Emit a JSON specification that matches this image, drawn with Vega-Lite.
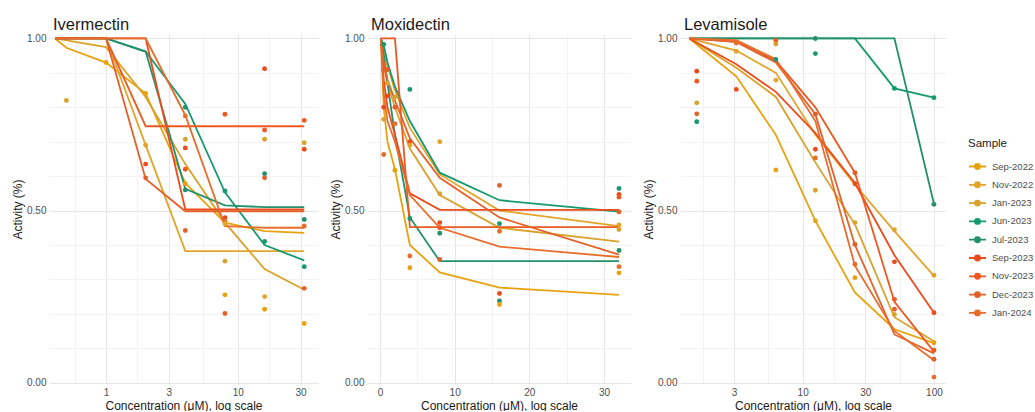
{
  "$schema": "https://vega.github.io/schema/vega-lite/v6.json",
  "padding": {"left": 11, "top": 17, "right": 0, "bottom": 0},
  "background": "white",
  "spacing": 11,
  "datasets": {
    "lines": [
      {"drug":"Ivermectin","sample":"Sep-2022","conc":0.41,"activity":1.0},
      {"drug":"Ivermectin","sample":"Sep-2022","conc":0.5,"activity":0.973},
      {"drug":"Ivermectin","sample":"Sep-2022","conc":1,"activity":0.93},
      {"drug":"Ivermectin","sample":"Sep-2022","conc":2,"activity":0.84},
      {"drug":"Ivermectin","sample":"Sep-2022","conc":4,"activity":0.58},
      {"drug":"Ivermectin","sample":"Sep-2022","conc":8,"activity":0.465},
      {"drug":"Ivermectin","sample":"Sep-2022","conc":16,"activity":0.44},
      {"drug":"Ivermectin","sample":"Sep-2022","conc":32,"activity":0.435},
      {"drug":"Ivermectin","sample":"Nov-2022","conc":0.41,"activity":1.0},
      {"drug":"Ivermectin","sample":"Nov-2022","conc":1,"activity":1.0},
      {"drug":"Ivermectin","sample":"Nov-2022","conc":2,"activity":0.69},
      {"drug":"Ivermectin","sample":"Nov-2022","conc":4,"activity":0.382},
      {"drug":"Ivermectin","sample":"Nov-2022","conc":8,"activity":0.382},
      {"drug":"Ivermectin","sample":"Nov-2022","conc":16,"activity":0.382},
      {"drug":"Ivermectin","sample":"Nov-2022","conc":32,"activity":0.382},
      {"drug":"Ivermectin","sample":"Jan-2023","conc":0.41,"activity":1.0},
      {"drug":"Ivermectin","sample":"Jan-2023","conc":1,"activity":0.975},
      {"drug":"Ivermectin","sample":"Jan-2023","conc":2,"activity":0.83},
      {"drug":"Ivermectin","sample":"Jan-2023","conc":4,"activity":0.635},
      {"drug":"Ivermectin","sample":"Jan-2023","conc":8,"activity":0.465},
      {"drug":"Ivermectin","sample":"Jan-2023","conc":16,"activity":0.33},
      {"drug":"Ivermectin","sample":"Jan-2023","conc":32,"activity":0.27},
      {"drug":"Ivermectin","sample":"Jun-2023","conc":0.41,"activity":1.0},
      {"drug":"Ivermectin","sample":"Jun-2023","conc":1,"activity":1.0},
      {"drug":"Ivermectin","sample":"Jun-2023","conc":2,"activity":0.962},
      {"drug":"Ivermectin","sample":"Jun-2023","conc":4,"activity":0.81},
      {"drug":"Ivermectin","sample":"Jun-2023","conc":8,"activity":0.553},
      {"drug":"Ivermectin","sample":"Jun-2023","conc":16,"activity":0.40},
      {"drug":"Ivermectin","sample":"Jun-2023","conc":32,"activity":0.355},
      {"drug":"Ivermectin","sample":"Jul-2023","conc":0.41,"activity":1.0},
      {"drug":"Ivermectin","sample":"Jul-2023","conc":1,"activity":1.0},
      {"drug":"Ivermectin","sample":"Jul-2023","conc":2,"activity":0.962},
      {"drug":"Ivermectin","sample":"Jul-2023","conc":4,"activity":0.563},
      {"drug":"Ivermectin","sample":"Jul-2023","conc":8,"activity":0.515},
      {"drug":"Ivermectin","sample":"Jul-2023","conc":16,"activity":0.51},
      {"drug":"Ivermectin","sample":"Jul-2023","conc":32,"activity":0.51},
      {"drug":"Ivermectin","sample":"Sep-2023","conc":0.41,"activity":1.0},
      {"drug":"Ivermectin","sample":"Sep-2023","conc":1,"activity":1.0},
      {"drug":"Ivermectin","sample":"Sep-2023","conc":2,"activity":1.0},
      {"drug":"Ivermectin","sample":"Sep-2023","conc":4,"activity":0.503},
      {"drug":"Ivermectin","sample":"Sep-2023","conc":8,"activity":0.503},
      {"drug":"Ivermectin","sample":"Sep-2023","conc":16,"activity":0.503},
      {"drug":"Ivermectin","sample":"Sep-2023","conc":32,"activity":0.503},
      {"drug":"Ivermectin","sample":"Nov-2023","conc":0.41,"activity":1.0},
      {"drug":"Ivermectin","sample":"Nov-2023","conc":1,"activity":1.0},
      {"drug":"Ivermectin","sample":"Nov-2023","conc":2,"activity":0.745},
      {"drug":"Ivermectin","sample":"Nov-2023","conc":4,"activity":0.745},
      {"drug":"Ivermectin","sample":"Nov-2023","conc":8,"activity":0.745},
      {"drug":"Ivermectin","sample":"Nov-2023","conc":16,"activity":0.745},
      {"drug":"Ivermectin","sample":"Nov-2023","conc":32,"activity":0.745},
      {"drug":"Ivermectin","sample":"Dec-2023","conc":0.41,"activity":1.0},
      {"drug":"Ivermectin","sample":"Dec-2023","conc":1,"activity":1.0},
      {"drug":"Ivermectin","sample":"Dec-2023","conc":2,"activity":0.592},
      {"drug":"Ivermectin","sample":"Dec-2023","conc":4,"activity":0.498},
      {"drug":"Ivermectin","sample":"Dec-2023","conc":8,"activity":0.498},
      {"drug":"Ivermectin","sample":"Dec-2023","conc":16,"activity":0.498},
      {"drug":"Ivermectin","sample":"Dec-2023","conc":32,"activity":0.498},
      {"drug":"Ivermectin","sample":"Jan-2024","conc":0.41,"activity":1.0},
      {"drug":"Ivermectin","sample":"Jan-2024","conc":1,"activity":1.0},
      {"drug":"Ivermectin","sample":"Jan-2024","conc":2,"activity":1.0},
      {"drug":"Ivermectin","sample":"Jan-2024","conc":4,"activity":0.777},
      {"drug":"Ivermectin","sample":"Jan-2024","conc":8,"activity":0.455},
      {"drug":"Ivermectin","sample":"Jan-2024","conc":16,"activity":0.45},
      {"drug":"Ivermectin","sample":"Jan-2024","conc":32,"activity":0.45},

      {"drug":"Moxidectin","sample":"Sep-2022","conc":0.125,"activity":1.0},
      {"drug":"Moxidectin","sample":"Sep-2022","conc":0.5,"activity":0.80},
      {"drug":"Moxidectin","sample":"Sep-2022","conc":1,"activity":0.70},
      {"drug":"Moxidectin","sample":"Sep-2022","conc":2,"activity":0.62},
      {"drug":"Moxidectin","sample":"Sep-2022","conc":4,"activity":0.40},
      {"drug":"Moxidectin","sample":"Sep-2022","conc":8,"activity":0.32},
      {"drug":"Moxidectin","sample":"Sep-2022","conc":16,"activity":0.276},
      {"drug":"Moxidectin","sample":"Sep-2022","conc":32,"activity":0.255},
      {"drug":"Moxidectin","sample":"Nov-2022","conc":0.125,"activity":1.0},
      {"drug":"Moxidectin","sample":"Nov-2022","conc":0.5,"activity":0.96},
      {"drug":"Moxidectin","sample":"Nov-2022","conc":1,"activity":0.92},
      {"drug":"Moxidectin","sample":"Nov-2022","conc":2,"activity":0.85},
      {"drug":"Moxidectin","sample":"Nov-2022","conc":4,"activity":0.74},
      {"drug":"Moxidectin","sample":"Nov-2022","conc":8,"activity":0.605},
      {"drug":"Moxidectin","sample":"Nov-2022","conc":16,"activity":0.50},
      {"drug":"Moxidectin","sample":"Nov-2022","conc":32,"activity":0.455},
      {"drug":"Moxidectin","sample":"Jan-2023","conc":0.125,"activity":1.0},
      {"drug":"Moxidectin","sample":"Jan-2023","conc":0.5,"activity":0.92},
      {"drug":"Moxidectin","sample":"Jan-2023","conc":1,"activity":0.87},
      {"drug":"Moxidectin","sample":"Jan-2023","conc":2,"activity":0.80},
      {"drug":"Moxidectin","sample":"Jan-2023","conc":4,"activity":0.68},
      {"drug":"Moxidectin","sample":"Jan-2023","conc":8,"activity":0.545},
      {"drug":"Moxidectin","sample":"Jan-2023","conc":16,"activity":0.45},
      {"drug":"Moxidectin","sample":"Jan-2023","conc":32,"activity":0.41},
      {"drug":"Moxidectin","sample":"Jun-2023","conc":0.125,"activity":1.0},
      {"drug":"Moxidectin","sample":"Jun-2023","conc":0.5,"activity":0.98},
      {"drug":"Moxidectin","sample":"Jun-2023","conc":1,"activity":0.93},
      {"drug":"Moxidectin","sample":"Jun-2023","conc":2,"activity":0.86},
      {"drug":"Moxidectin","sample":"Jun-2023","conc":4,"activity":0.76},
      {"drug":"Moxidectin","sample":"Jun-2023","conc":8,"activity":0.61},
      {"drug":"Moxidectin","sample":"Jun-2023","conc":16,"activity":0.53},
      {"drug":"Moxidectin","sample":"Jun-2023","conc":32,"activity":0.497},
      {"drug":"Moxidectin","sample":"Jul-2023","conc":0.125,"activity":1.0},
      {"drug":"Moxidectin","sample":"Jul-2023","conc":0.5,"activity":0.95},
      {"drug":"Moxidectin","sample":"Jul-2023","conc":1,"activity":0.87},
      {"drug":"Moxidectin","sample":"Jul-2023","conc":2,"activity":0.72},
      {"drug":"Moxidectin","sample":"Jul-2023","conc":4,"activity":0.48},
      {"drug":"Moxidectin","sample":"Jul-2023","conc":8,"activity":0.353},
      {"drug":"Moxidectin","sample":"Jul-2023","conc":16,"activity":0.353},
      {"drug":"Moxidectin","sample":"Jul-2023","conc":32,"activity":0.353},
      {"drug":"Moxidectin","sample":"Sep-2023","conc":0.125,"activity":1.0},
      {"drug":"Moxidectin","sample":"Sep-2023","conc":0.5,"activity":0.88},
      {"drug":"Moxidectin","sample":"Sep-2023","conc":1,"activity":0.80},
      {"drug":"Moxidectin","sample":"Sep-2023","conc":2,"activity":0.72},
      {"drug":"Moxidectin","sample":"Sep-2023","conc":4,"activity":0.55},
      {"drug":"Moxidectin","sample":"Sep-2023","conc":8,"activity":0.502},
      {"drug":"Moxidectin","sample":"Sep-2023","conc":16,"activity":0.502},
      {"drug":"Moxidectin","sample":"Sep-2023","conc":32,"activity":0.502},
      {"drug":"Moxidectin","sample":"Nov-2023","conc":0.125,"activity":1.0},
      {"drug":"Moxidectin","sample":"Nov-2023","conc":0.5,"activity":1.0},
      {"drug":"Moxidectin","sample":"Nov-2023","conc":1,"activity":1.0},
      {"drug":"Moxidectin","sample":"Nov-2023","conc":2,"activity":1.0},
      {"drug":"Moxidectin","sample":"Nov-2023","conc":4,"activity":0.452},
      {"drug":"Moxidectin","sample":"Nov-2023","conc":8,"activity":0.452},
      {"drug":"Moxidectin","sample":"Nov-2023","conc":16,"activity":0.452},
      {"drug":"Moxidectin","sample":"Nov-2023","conc":32,"activity":0.452},
      {"drug":"Moxidectin","sample":"Dec-2023","conc":0.125,"activity":1.0},
      {"drug":"Moxidectin","sample":"Dec-2023","conc":0.5,"activity":0.93},
      {"drug":"Moxidectin","sample":"Dec-2023","conc":1,"activity":0.88},
      {"drug":"Moxidectin","sample":"Dec-2023","conc":2,"activity":0.82},
      {"drug":"Moxidectin","sample":"Dec-2023","conc":4,"activity":0.71},
      {"drug":"Moxidectin","sample":"Dec-2023","conc":8,"activity":0.595},
      {"drug":"Moxidectin","sample":"Dec-2023","conc":16,"activity":0.48},
      {"drug":"Moxidectin","sample":"Dec-2023","conc":32,"activity":0.372},
      {"drug":"Moxidectin","sample":"Jan-2024","conc":0.125,"activity":1.0},
      {"drug":"Moxidectin","sample":"Jan-2024","conc":0.5,"activity":0.84},
      {"drug":"Moxidectin","sample":"Jan-2024","conc":1,"activity":0.76},
      {"drug":"Moxidectin","sample":"Jan-2024","conc":2,"activity":0.70},
      {"drug":"Moxidectin","sample":"Jan-2024","conc":4,"activity":0.545},
      {"drug":"Moxidectin","sample":"Jan-2024","conc":8,"activity":0.45},
      {"drug":"Moxidectin","sample":"Jan-2024","conc":16,"activity":0.395},
      {"drug":"Moxidectin","sample":"Jan-2024","conc":32,"activity":0.365},

      {"drug":"Levamisole","sample":"Sep-2022","conc":1.37,"activity":1.0},
      {"drug":"Levamisole","sample":"Sep-2022","conc":3.125,"activity":0.89},
      {"drug":"Levamisole","sample":"Sep-2022","conc":6.25,"activity":0.72},
      {"drug":"Levamisole","sample":"Sep-2022","conc":12.5,"activity":0.47},
      {"drug":"Levamisole","sample":"Sep-2022","conc":25,"activity":0.262},
      {"drug":"Levamisole","sample":"Sep-2022","conc":50,"activity":0.155},
      {"drug":"Levamisole","sample":"Sep-2022","conc":100,"activity":0.115},
      {"drug":"Levamisole","sample":"Nov-2022","conc":1.37,"activity":1.0},
      {"drug":"Levamisole","sample":"Nov-2022","conc":3.125,"activity":0.965},
      {"drug":"Levamisole","sample":"Nov-2022","conc":6.25,"activity":0.90},
      {"drug":"Levamisole","sample":"Nov-2022","conc":12.5,"activity":0.72},
      {"drug":"Levamisole","sample":"Nov-2022","conc":25,"activity":0.575},
      {"drug":"Levamisole","sample":"Nov-2022","conc":50,"activity":0.44},
      {"drug":"Levamisole","sample":"Nov-2022","conc":100,"activity":0.31},
      {"drug":"Levamisole","sample":"Jan-2023","conc":1.37,"activity":1.0},
      {"drug":"Levamisole","sample":"Jan-2023","conc":3.125,"activity":0.915},
      {"drug":"Levamisole","sample":"Jan-2023","conc":6.25,"activity":0.83},
      {"drug":"Levamisole","sample":"Jan-2023","conc":12.5,"activity":0.64},
      {"drug":"Levamisole","sample":"Jan-2023","conc":25,"activity":0.46},
      {"drug":"Levamisole","sample":"Jan-2023","conc":50,"activity":0.19},
      {"drug":"Levamisole","sample":"Jan-2023","conc":100,"activity":0.12},
      {"drug":"Levamisole","sample":"Jun-2023","conc":1.37,"activity":1.0},
      {"drug":"Levamisole","sample":"Jun-2023","conc":3.125,"activity":1.0},
      {"drug":"Levamisole","sample":"Jun-2023","conc":6.25,"activity":1.0},
      {"drug":"Levamisole","sample":"Jun-2023","conc":12.5,"activity":1.0},
      {"drug":"Levamisole","sample":"Jun-2023","conc":25,"activity":1.0},
      {"drug":"Levamisole","sample":"Jun-2023","conc":50,"activity":0.855},
      {"drug":"Levamisole","sample":"Jun-2023","conc":100,"activity":0.828},
      {"drug":"Levamisole","sample":"Jul-2023","conc":1.37,"activity":1.0},
      {"drug":"Levamisole","sample":"Jul-2023","conc":3.125,"activity":1.0},
      {"drug":"Levamisole","sample":"Jul-2023","conc":6.25,"activity":1.0},
      {"drug":"Levamisole","sample":"Jul-2023","conc":12.5,"activity":1.0},
      {"drug":"Levamisole","sample":"Jul-2023","conc":25,"activity":1.0},
      {"drug":"Levamisole","sample":"Jul-2023","conc":50,"activity":1.0},
      {"drug":"Levamisole","sample":"Jul-2023","conc":100,"activity":0.52},
      {"drug":"Levamisole","sample":"Sep-2023","conc":1.37,"activity":1.0},
      {"drug":"Levamisole","sample":"Sep-2023","conc":3.125,"activity":0.925},
      {"drug":"Levamisole","sample":"Sep-2023","conc":6.25,"activity":0.845},
      {"drug":"Levamisole","sample":"Sep-2023","conc":12.5,"activity":0.725},
      {"drug":"Levamisole","sample":"Sep-2023","conc":25,"activity":0.58},
      {"drug":"Levamisole","sample":"Sep-2023","conc":50,"activity":0.37},
      {"drug":"Levamisole","sample":"Sep-2023","conc":100,"activity":0.203},
      {"drug":"Levamisole","sample":"Nov-2023","conc":1.37,"activity":1.0},
      {"drug":"Levamisole","sample":"Nov-2023","conc":3.125,"activity":0.99},
      {"drug":"Levamisole","sample":"Nov-2023","conc":6.25,"activity":0.935},
      {"drug":"Levamisole","sample":"Nov-2023","conc":12.5,"activity":0.80},
      {"drug":"Levamisole","sample":"Nov-2023","conc":25,"activity":0.61},
      {"drug":"Levamisole","sample":"Nov-2023","conc":50,"activity":0.235},
      {"drug":"Levamisole","sample":"Nov-2023","conc":100,"activity":0.09},
      {"drug":"Levamisole","sample":"Dec-2023","conc":1.37,"activity":1.0},
      {"drug":"Levamisole","sample":"Dec-2023","conc":3.125,"activity":0.99},
      {"drug":"Levamisole","sample":"Dec-2023","conc":6.25,"activity":0.93},
      {"drug":"Levamisole","sample":"Dec-2023","conc":12.5,"activity":0.78},
      {"drug":"Levamisole","sample":"Dec-2023","conc":25,"activity":0.40},
      {"drug":"Levamisole","sample":"Dec-2023","conc":50,"activity":0.14},
      {"drug":"Levamisole","sample":"Dec-2023","conc":100,"activity":0.085},
      {"drug":"Levamisole","sample":"Jan-2024","conc":1.37,"activity":1.0},
      {"drug":"Levamisole","sample":"Jan-2024","conc":3.125,"activity":0.995},
      {"drug":"Levamisole","sample":"Jan-2024","conc":6.25,"activity":0.94},
      {"drug":"Levamisole","sample":"Jan-2024","conc":12.5,"activity":0.76},
      {"drug":"Levamisole","sample":"Jan-2024","conc":25,"activity":0.34},
      {"drug":"Levamisole","sample":"Jan-2024","conc":50,"activity":0.15},
      {"drug":"Levamisole","sample":"Jan-2024","conc":100,"activity":0.065}
    ],
    "points": [
      {"drug":"Ivermectin","sample":"Jan-2023","conc":0.5,"activity":0.82},
      {"drug":"Ivermectin","sample":"Sep-2022","conc":1,"activity":0.93},
      {"drug":"Ivermectin","sample":"Sep-2022","conc":2,"activity":0.84},
      {"drug":"Ivermectin","sample":"Nov-2022","conc":2,"activity":0.69},
      {"drug":"Ivermectin","sample":"Sep-2023","conc":2,"activity":0.635},
      {"drug":"Ivermectin","sample":"Dec-2023","conc":2,"activity":0.595},
      {"drug":"Ivermectin","sample":"Jun-2023","conc":4,"activity":0.80},
      {"drug":"Ivermectin","sample":"Jan-2024","conc":4,"activity":0.775},
      {"drug":"Ivermectin","sample":"Jan-2023","conc":4,"activity":0.707},
      {"drug":"Ivermectin","sample":"Sep-2023","conc":4,"activity":0.682},
      {"drug":"Ivermectin","sample":"Nov-2023","conc":4,"activity":0.62},
      {"drug":"Ivermectin","sample":"Sep-2022","conc":4,"activity":0.578},
      {"drug":"Ivermectin","sample":"Jul-2023","conc":4,"activity":0.56},
      {"drug":"Ivermectin","sample":"Dec-2023","conc":4,"activity":0.442},
      {"drug":"Ivermectin","sample":"Nov-2023","conc":8,"activity":0.78},
      {"drug":"Ivermectin","sample":"Jun-2023","conc":8,"activity":0.557},
      {"drug":"Ivermectin","sample":"Sep-2023","conc":8,"activity":0.479},
      {"drug":"Ivermectin","sample":"Jan-2024","conc":8,"activity":0.468},
      {"drug":"Ivermectin","sample":"Nov-2022","conc":8,"activity":0.462},
      {"drug":"Ivermectin","sample":"Jan-2023","conc":8,"activity":0.353},
      {"drug":"Ivermectin","sample":"Sep-2022","conc":8,"activity":0.255},
      {"drug":"Ivermectin","sample":"Dec-2023","conc":8,"activity":0.201},
      {"drug":"Ivermectin","sample":"Sep-2023","conc":16,"activity":0.912},
      {"drug":"Ivermectin","sample":"Nov-2023","conc":16,"activity":0.734},
      {"drug":"Ivermectin","sample":"Jan-2023","conc":16,"activity":0.707},
      {"drug":"Ivermectin","sample":"Jul-2023","conc":16,"activity":0.607},
      {"drug":"Ivermectin","sample":"Dec-2023","conc":16,"activity":0.595},
      {"drug":"Ivermectin","sample":"Jun-2023","conc":16,"activity":0.41},
      {"drug":"Ivermectin","sample":"Nov-2022","conc":16,"activity":0.25},
      {"drug":"Ivermectin","sample":"Sep-2022","conc":16,"activity":0.213},
      {"drug":"Ivermectin","sample":"Nov-2023","conc":32,"activity":0.762},
      {"drug":"Ivermectin","sample":"Jan-2023","conc":32,"activity":0.697},
      {"drug":"Ivermectin","sample":"Sep-2023","conc":32,"activity":0.678},
      {"drug":"Ivermectin","sample":"Jul-2023","conc":32,"activity":0.474},
      {"drug":"Ivermectin","sample":"Jan-2024","conc":32,"activity":0.455},
      {"drug":"Ivermectin","sample":"Jun-2023","conc":32,"activity":0.337},
      {"drug":"Ivermectin","sample":"Dec-2023","conc":32,"activity":0.274},
      {"drug":"Ivermectin","sample":"Sep-2022","conc":32,"activity":0.172},

      {"drug":"Moxidectin","sample":"Jun-2023","conc":0.5,"activity":0.983},
      {"drug":"Moxidectin","sample":"Dec-2023","conc":0.5,"activity":0.91},
      {"drug":"Moxidectin","sample":"Sep-2023","conc":0.5,"activity":0.80},
      {"drug":"Moxidectin","sample":"Jan-2023","conc":0.5,"activity":0.765},
      {"drug":"Moxidectin","sample":"Jan-2024","conc":0.5,"activity":0.663},
      {"drug":"Moxidectin","sample":"Nov-2023","conc":1,"activity":0.91},
      {"drug":"Moxidectin","sample":"Sep-2023","conc":1,"activity":0.833},
      {"drug":"Moxidectin","sample":"Nov-2022","conc":1,"activity":0.87},
      {"drug":"Moxidectin","sample":"Dec-2023","conc":2,"activity":0.80},
      {"drug":"Moxidectin","sample":"Jan-2024","conc":2,"activity":0.752},
      {"drug":"Moxidectin","sample":"Sep-2022","conc":2,"activity":0.617},
      {"drug":"Moxidectin","sample":"Jan-2023","conc":2,"activity":0.83},
      {"drug":"Moxidectin","sample":"Jun-2023","conc":4,"activity":0.852},
      {"drug":"Moxidectin","sample":"Sep-2023","conc":4,"activity":0.70},
      {"drug":"Moxidectin","sample":"Nov-2022","conc":4,"activity":0.69},
      {"drug":"Moxidectin","sample":"Jul-2023","conc":4,"activity":0.477},
      {"drug":"Moxidectin","sample":"Jan-2024","conc":4,"activity":0.368},
      {"drug":"Moxidectin","sample":"Sep-2022","conc":4,"activity":0.334},
      {"drug":"Moxidectin","sample":"Nov-2022","conc":8,"activity":0.70},
      {"drug":"Moxidectin","sample":"Jan-2023","conc":8,"activity":0.549},
      {"drug":"Moxidectin","sample":"Sep-2023","conc":8,"activity":0.465},
      {"drug":"Moxidectin","sample":"Nov-2023","conc":8,"activity":0.45},
      {"drug":"Moxidectin","sample":"Jul-2023","conc":8,"activity":0.434},
      {"drug":"Moxidectin","sample":"Dec-2023","conc":8,"activity":0.358},
      {"drug":"Moxidectin","sample":"Dec-2023","conc":16,"activity":0.573},
      {"drug":"Moxidectin","sample":"Jun-2023","conc":16,"activity":0.462},
      {"drug":"Moxidectin","sample":"Jan-2024","conc":16,"activity":0.44},
      {"drug":"Moxidectin","sample":"Sep-2023","conc":16,"activity":0.259},
      {"drug":"Moxidectin","sample":"Jul-2023","conc":16,"activity":0.237},
      {"drug":"Moxidectin","sample":"Sep-2022","conc":16,"activity":0.227},
      {"drug":"Moxidectin","sample":"Jun-2023","conc":32,"activity":0.564},
      {"drug":"Moxidectin","sample":"Sep-2023","conc":32,"activity":0.547},
      {"drug":"Moxidectin","sample":"Nov-2023","conc":32,"activity":0.539},
      {"drug":"Moxidectin","sample":"Dec-2023","conc":32,"activity":0.496},
      {"drug":"Moxidectin","sample":"Nov-2022","conc":32,"activity":0.458},
      {"drug":"Moxidectin","sample":"Jan-2023","conc":32,"activity":0.445},
      {"drug":"Moxidectin","sample":"Jul-2023","conc":32,"activity":0.384},
      {"drug":"Moxidectin","sample":"Jan-2024","conc":32,"activity":0.337},
      {"drug":"Moxidectin","sample":"Sep-2022","conc":32,"activity":0.319},

      {"drug":"Levamisole","sample":"Sep-2023","conc":1.5625,"activity":0.905},
      {"drug":"Levamisole","sample":"Nov-2023","conc":1.5625,"activity":0.876},
      {"drug":"Levamisole","sample":"Jan-2023","conc":1.5625,"activity":0.813},
      {"drug":"Levamisole","sample":"Dec-2023","conc":1.5625,"activity":0.781},
      {"drug":"Levamisole","sample":"Jun-2023","conc":1.5625,"activity":0.758},
      {"drug":"Levamisole","sample":"Jan-2024","conc":3.125,"activity":0.987},
      {"drug":"Levamisole","sample":"Nov-2022","conc":3.125,"activity":0.963},
      {"drug":"Levamisole","sample":"Sep-2023","conc":3.125,"activity":0.852},
      {"drug":"Levamisole","sample":"Nov-2023","conc":6.25,"activity":0.994},
      {"drug":"Levamisole","sample":"Jan-2023","conc":6.25,"activity":0.984},
      {"drug":"Levamisole","sample":"Jul-2023","conc":6.25,"activity":0.939},
      {"drug":"Levamisole","sample":"Nov-2022","conc":6.25,"activity":0.879},
      {"drug":"Levamisole","sample":"Sep-2022","conc":6.25,"activity":0.618},
      {"drug":"Levamisole","sample":"Jul-2023","conc":12.5,"activity":1.0},
      {"drug":"Levamisole","sample":"Jun-2023","conc":12.5,"activity":0.956},
      {"drug":"Levamisole","sample":"Dec-2023","conc":12.5,"activity":0.78},
      {"drug":"Levamisole","sample":"Sep-2023","conc":12.5,"activity":0.678},
      {"drug":"Levamisole","sample":"Jan-2024","conc":12.5,"activity":0.653},
      {"drug":"Levamisole","sample":"Jan-2023","conc":12.5,"activity":0.559},
      {"drug":"Levamisole","sample":"Sep-2022","conc":12.5,"activity":0.47},
      {"drug":"Levamisole","sample":"Nov-2023","conc":25,"activity":0.61},
      {"drug":"Levamisole","sample":"Sep-2023","conc":25,"activity":0.578},
      {"drug":"Levamisole","sample":"Jan-2023","conc":25,"activity":0.465},
      {"drug":"Levamisole","sample":"Dec-2023","conc":25,"activity":0.402},
      {"drug":"Levamisole","sample":"Jan-2024","conc":25,"activity":0.344},
      {"drug":"Levamisole","sample":"Sep-2022","conc":25,"activity":0.305},
      {"drug":"Levamisole","sample":"Jun-2023","conc":50,"activity":0.855},
      {"drug":"Levamisole","sample":"Nov-2022","conc":50,"activity":0.444},
      {"drug":"Levamisole","sample":"Sep-2023","conc":50,"activity":0.351},
      {"drug":"Levamisole","sample":"Nov-2023","conc":50,"activity":0.242},
      {"drug":"Levamisole","sample":"Dec-2023","conc":50,"activity":0.213},
      {"drug":"Levamisole","sample":"Jan-2023","conc":50,"activity":0.198},
      {"drug":"Levamisole","sample":"Jun-2023","conc":100,"activity":0.828},
      {"drug":"Levamisole","sample":"Jul-2023","conc":100,"activity":0.518},
      {"drug":"Levamisole","sample":"Nov-2022","conc":100,"activity":0.312},
      {"drug":"Levamisole","sample":"Sep-2023","conc":100,"activity":0.203},
      {"drug":"Levamisole","sample":"Sep-2022","conc":100,"activity":0.116},
      {"drug":"Levamisole","sample":"Nov-2023","conc":100,"activity":0.094},
      {"drug":"Levamisole","sample":"Dec-2023","conc":100,"activity":0.068},
      {"drug":"Levamisole","sample":"Jan-2024","conc":100,"activity":0.016}
    ]
  },
  "hconcat": [
    {
      "width": 269, "height": 350,
      "title": {"text": "Ivermectin"},
      "layer": [
        {
          "data": {"name": "lines"},
          "transform": [{"filter": "datum.drug === 'Ivermectin'"}],
          "mark": {"type": "line", "strokeWidth": 1.8},
          "encoding": {
            "x": {"field": "conc", "type": "quantitative", "scale": {"type": "log", "domain": [0.369, 40.7], "nice": false},
              "axis": {"title": "Concentration (μM), log scale", "values": [0.577, 1, 1.732, 3, 5.477, 10, 17.32, 30], "labelExpr": "indexof([1,3,10,30], datum.value) >= 0 ? format(datum.value, '~g') : ''",
                "gridColor": {"condition": {"test": "indexof([1,3,10,30], datum.value) >= 0", "value": "#e6e6e6"}, "value": "#f3f3f3"}}},
            "y": {"field": "activity", "type": "quantitative", "scale": {"domain": [-0.004, 1.013], "nice": false, "zero": false}, "axis": {"title": "Activity (%)"}},
            "color": {"field": "sample", "type": "nominal", "title": "Sample",
              "scale": {"domain": ["Sep-2022", "Nov-2022", "Jan-2023", "Jun-2023", "Jul-2023", "Sep-2023", "Nov-2023", "Dec-2023", "Jan-2024"]}}
          }
        },
        {
          "data": {"name": "points"},
          "transform": [{"filter": "datum.drug === 'Ivermectin'"}],
          "mark": {"type": "circle", "size": 24, "opacity": 1},
          "encoding": {
            "x": {"field": "conc", "type": "quantitative"},
            "y": {"field": "activity", "type": "quantitative"},
            "color": {"field": "sample", "type": "nominal"}
          }
        }
      ]
    },
    {
      "width": 264, "height": 350,
      "title": {"text": "Moxidectin"},
      "layer": [
        {
          "data": {"name": "lines"},
          "transform": [{"filter": "datum.drug === 'Moxidectin'"}],
          "mark": {"type": "line", "strokeWidth": 1.8},
          "encoding": {
            "x": {"field": "conc", "type": "quantitative", "scale": {"domain": [-1.741, 33.61], "nice": false, "zero": false},
              "axis": {"title": "Concentration (μM), log scale", "values": [0, 5, 10, 15, 20, 25, 30], "labelExpr": "datum.value % 10 === 0 ? format(datum.value, '~g') : ''",
                "gridColor": {"condition": {"test": "datum.value % 10 === 0", "value": "#e6e6e6"}, "value": "#f3f3f3"}}},
            "y": {"field": "activity", "type": "quantitative", "scale": {"domain": [-0.004, 1.013], "nice": false, "zero": false}, "axis": {"title": "Activity (%)"}},
            "color": {"field": "sample", "type": "nominal"}
          }
        },
        {
          "data": {"name": "points"},
          "transform": [{"filter": "datum.drug === 'Moxidectin'"}],
          "mark": {"type": "circle", "size": 24, "opacity": 1},
          "encoding": {
            "x": {"field": "conc", "type": "quantitative"},
            "y": {"field": "activity", "type": "quantitative"},
            "color": {"field": "sample", "type": "nominal"}
          }
        }
      ]
    },
    {
      "width": 266, "height": 350,
      "title": {"text": "Levamisole"},
      "layer": [
        {
          "data": {"name": "lines"},
          "transform": [{"filter": "datum.drug === 'Levamisole'"}],
          "mark": {"type": "line", "strokeWidth": 1.8},
          "encoding": {
            "x": {"field": "conc", "type": "quantitative", "scale": {"type": "log", "domain": [1.164, 123.5], "nice": false},
              "axis": {"title": "Concentration (μM), log scale", "values": [1.732, 3, 5.477, 10, 17.32, 30, 54.77, 100], "labelExpr": "indexof([3,10,30,100], datum.value) >= 0 ? format(datum.value, '~g') : ''",
                "gridColor": {"condition": {"test": "indexof([3,10,30,100], datum.value) >= 0", "value": "#e6e6e6"}, "value": "#f3f3f3"}}},
            "y": {"field": "activity", "type": "quantitative", "scale": {"domain": [-0.004, 1.013], "nice": false, "zero": false}, "axis": {"title": "Activity (%)"}},
            "color": {"field": "sample", "type": "nominal"}
          }
        },
        {
          "data": {"name": "points"},
          "transform": [{"filter": "datum.drug === 'Levamisole'"}],
          "mark": {"type": "circle", "size": 24, "opacity": 1},
          "encoding": {
            "x": {"field": "conc", "type": "quantitative"},
            "y": {"field": "activity", "type": "quantitative"},
            "color": {"field": "sample", "type": "nominal"}
          }
        }
      ]
    }
  ],
  "resolve": {"scale": {"color": "shared"}},
  "config": {
    "font": "Liberation Sans",
    "view": {"stroke": null},
    "concat": {"spacing": 11},
    "title": {"anchor": "start", "frame": "group", "fontSize": 16.5, "fontWeight": "normal", "color": "#1a1a1a", "offset": 0, "dx": 4, "dy": 4.5},
    "range": {"category": ["#E9A20F", "#E3A42A", "#D9A22C", "#16996E", "#25906D", "#EC4B1C", "#EE5921", "#E3622B", "#E86D2B"]},
    "axis": {"domain": false, "ticks": false, "labelFontSize": 10, "labelColor": "#4d4d4d", "labelPadding": 3, "titleFontSize": 12, "titleFontWeight": "normal", "titleColor": "#1a1a1a", "titlePadding": 2, "gridWidth": 1, "gridColor": "#e6e6e6"},
    "axisX": {"titlePadding": 3},
    "axisY": {"values": [0, 0.125, 0.25, 0.375, 0.5, 0.625, 0.75, 0.875, 1], "labelExpr": "(datum.value * 4) % 1 === 0 ? format(datum.value, '.2f') : ''",
      "gridColor": {"condition": {"test": "(datum.value * 4) % 1 === 0", "value": "#e6e6e6"}, "value": "#f3f3f3"}},
    "legend": {"orient": "none", "legendX": 919, "legendY": 103.5, "titleFontSize": 11.5, "titleFontWeight": "normal", "titleColor": "#1a1a1a", "labelFontSize": 9.5, "labelColor": "#4d4d4d",
      "symbolType": "M-1,0L1,0M0.3,0A0.3,0.3,0,1,1,-0.3,0A0.3,0.3,0,1,1,0.3,0Z", "symbolSize": 289, "symbolStrokeWidth": 1.8, "rowPadding": 2.3, "labelOffset": 5, "titlePadding": 8}
  }
}
